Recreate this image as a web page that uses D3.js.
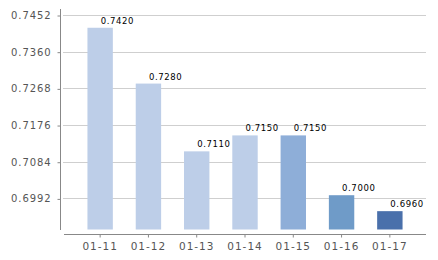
<!DOCTYPE html>
<html><head><meta charset="utf-8">
<script src="https://cdn.jsdelivr.net/npm/d3@7"></script>
<style>body{margin:0;background:#fff}svg{display:block}</style>
</head><body><svg id="c" width="438" height="260"></svg>
<script>
const categories = ["01-11","01-12","01-13","01-14","01-15","01-16","01-17"];
const values = [0.7420,0.7280,0.7110,0.7150,0.7150,0.7000,0.6960];
const valueLabels = ["0.7420","0.7280","0.7110","0.7150","0.7150","0.7000","0.6960"];
const yTicks = [0.6992,0.7084,0.7176,0.7268,0.7360,0.7452];
const barColors = ["#bdcee8","#bdcee8","#bdcee8","#bdcee8","#8eaed8","#6f9bc8","#4a70ab"];

const svg = d3.select("#c");
const y = d3.scaleLinear().domain([0.6914,0.7452]).range([229.5,15]);
const x = d3.scaleBand().domain(categories).range([76,414]).paddingInner(0.474).paddingOuter(0.237);

// gridlines
svg.append("g").selectAll("line").data(yTicks).join("line")
  .attr("x1",63).attr("x2",426)
  .attr("y1",d=>Math.round(y(d))+0.5).attr("y2",d=>Math.round(y(d))+0.5)
  .attr("stroke","#cfcfcf").attr("stroke-width",1);

// y axis
const yAxis = d3.axisLeft(y).tickValues(yTicks).tickSize(3).tickPadding(6).tickFormat(d3.format(".4f"));
const gy = svg.append("g").attr("transform","translate(60.5,0)").call(yAxis);
gy.select(".domain").remove();
gy.append("line").attr("x1",0).attr("x2",0).attr("y1",9).attr("y2",230).attr("stroke","#888");
gy.selectAll(".tick line").attr("stroke","#888").attr("transform","translate(0,0.5)");
gy.selectAll(".tick text").attr("fill","#555").style("font-family","DejaVu Sans").style("font-size","10px").style("letter-spacing","0.9px").attr("dy","0.35em");

// bars
svg.append("g").selectAll("rect").data(values).join("rect")
  .attr("x",(d,i)=>x(categories[i]))
  .attr("width",x.bandwidth())
  .attr("y",d=>y(d))
  .attr("height",d=>y.range()[0]-y(d))
  .attr("fill",(d,i)=>barColors[i]);

// value labels
svg.append("g").selectAll("text").data(values).join("text")
  .attr("x",(d,i)=>x(categories[i])+x.bandwidth()/2+0.5)
  .attr("y",d=>y(d)-4)
  .text((d,i)=>valueLabels[i])
  .attr("fill","#000").style("font-family","DejaVu Sans").style("font-size","8.5px").style("letter-spacing","0.6px");

// x axis
const xAxis = d3.axisBottom(x).tickSize(3).tickPadding(5);
const gx = svg.append("g").attr("transform","translate(0,234.5)").call(xAxis);
gx.select(".domain").remove();
gx.append("line").attr("x1",64).attr("x2",426).attr("y1",0).attr("y2",0).attr("stroke","#888");
gx.selectAll(".tick line").attr("stroke","#888");
gx.selectAll(".tick text").attr("fill","#555").style("font-family","DejaVu Sans").style("font-size","10.5px").style("letter-spacing","1px");
</script></body></html>
